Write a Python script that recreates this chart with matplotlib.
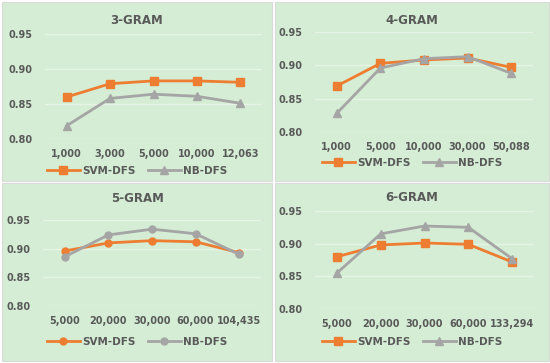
import matplotlib.pyplot as plt
from matplotlib.patches import Rectangle

# data
labels_3 = ['1,000', '3,000', '5,000', '10,000', '12,063']
svm_3 = [0.860, 0.879, 0.883, 0.883, 0.881]
nb_3 = [0.819, 0.858, 0.864, 0.861, 0.851]

labels_4 = ['1,000', '5,000', '10,000', '30,000', '50,088']
svm_4 = [0.869, 0.903, 0.908, 0.911, 0.897]
nb_4 = [0.828, 0.896, 0.910, 0.913, 0.888]

labels_5 = ['5,000', '20,000', '30,000', '60,000', '104,435']
svm_5 = [0.896, 0.910, 0.914, 0.912, 0.893]
nb_5 = [0.886, 0.924, 0.934, 0.926, 0.890]

labels_6 = ['5,000', '20,000', '30,000', '60,000', '133,294']
svm_6 = [0.880, 0.898, 0.901, 0.899, 0.872]
nb_6 = [0.855, 0.915, 0.927, 0.925, 0.877]

ORANGE = '#ED7D31'
GRAY = '#A5A5A5'
BG = '#D4EDD4'
TXT = '#595959'
W, H = 550, 363

fig = plt.figure(figsize=(5.5, 3.63), dpi=100)
fig.patch.set_facecolor('white')


def px_rect(x0, y0, x1, y1):
    # pixel box (top-left origin) -> figure fraction [l, b, w, h]
    return [x0 / W, 1 - y1 / H, (x1 - x0) / W, (y1 - y0) / H]


# panel backgrounds
panels = [(2, 2, 272, 181), (275, 2, 549, 181), (2, 183, 272, 361), (275, 183, 549, 361)]
for (x0, y0, x1, y1) in panels:
    l, b, w, h = px_rect(x0, y0, x1, y1)
    fig.patches.append(Rectangle((l, b), w, h, transform=fig.transFigure,
                                 facecolor=BG, edgecolor='#D9D9D9', lw=0.8, zorder=-5))

specs = [
    ('3-GRAM', labels_3, svm_3, nb_3, 's', '^', (45, 34, 262, 139), 20, 171, 137),
    ('4-GRAM', labels_4, svm_4, nb_4, 's', '^', (315, 32, 533, 132), 20, 163, 412),
    ('5-GRAM', labels_5, svm_5, nb_5, 'o', 'o', (43, 220, 261, 306), 199, 342, 137),
    ('6-GRAM', labels_6, svm_6, nb_6, 's', '^', (315, 211, 534, 309), 198, 342, 412),
]

for title, labels, svm, nb, m1, m2, box, ty, ly, cx in specs:
    ax = fig.add_axes(px_rect(*box))
    ax.set_facecolor('none')
    x = list(range(len(labels)))
    ms = 5 if m1 == 'o' else 6
    ax.plot(x, svm, color=ORANGE, lw=2, marker=m1, ms=ms, label='SVM-DFS', zorder=3)
    ax.plot(x, nb, color=GRAY, lw=2, marker=m2, ms=ms, label='NB-DFS', zorder=3)
    ax.set_xlim(-0.5, len(labels) - 0.5)
    ax.set_ylim(0.80, 0.95)
    ax.set_yticks([0.80, 0.85, 0.90, 0.95])
    ax.set_yticklabels(['0.80', '0.85', '0.90', '0.95'])
    ax.set_xticks(x)
    ax.set_xticklabels(labels)
    ax.grid(axis='y', color='#E6F3E5', lw=1, zorder=0)
    ax.set_axisbelow(True)
    for s in ax.spines.values():
        s.set_visible(False)
    ax.tick_params(axis='y', length=0, colors=TXT, labelsize=7, pad=9)
    ax.tick_params(axis='x', length=0, colors=TXT, labelsize=7, pad=7)
    for t in ax.get_xticklabels() + ax.get_yticklabels():
        t.set_fontweight('bold')
    fig.text(cx / W, 1 - ty / H, title, ha='center', va='center', fontsize=8.5,
             fontweight='bold', color=TXT)
    leg = fig.legend(*ax.get_legend_handles_labels(), loc='center',
                     bbox_to_anchor=(cx / W, 1 - ly / H), ncol=2, frameon=False,
                     fontsize=7.5, handlelength=3.2, columnspacing=1.2, handletextpad=0.2)
    for t in leg.get_texts():
        t.set_color(TXT)
        t.set_fontweight('bold')

fig.savefig('out.png', dpi=100)
